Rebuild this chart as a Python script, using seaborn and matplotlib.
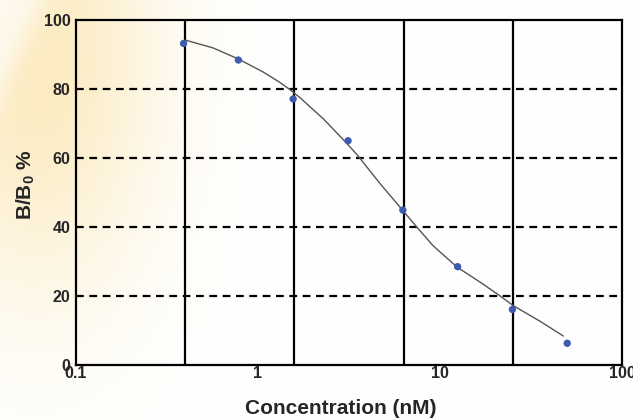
import numpy as np
import pandas as pd
import matplotlib
matplotlib.use("Agg")
import matplotlib.pyplot as plt
import seaborn as sns

# ---- data ----
conc = [0.39, 0.78, 1.56, 3.125, 6.25, 12.5, 25, 50]
bb0 = [93.2, 88.4, 77.1, 65.0, 44.9, 28.5, 16.1, 6.3]

curve_x = [0.397, 0.567, 0.78, 1.07, 1.32, 1.50, 1.70, 2.28, 3.07, 3.56, 4.68, 6.2,
           7.45, 9.19, 12.4, 17.3, 21.4, 25.3, 35.4, 47.6]
curve_y = [94.2, 91.9, 88.7, 84.9, 81.9, 79.8, 77.5, 71.4, 64.3, 60.5, 52.6, 45.0,
           40.0, 34.5, 28.4, 23.4, 20.0, 17.2, 12.7, 8.4]

y_ticks = [0, 20, 40, 60, 80, 100]
x_labels = [0.1, 1, 10, 100]
x_label_text = ["0.1", "1", "10", "100"]
x_grid = [0.1, 0.398, 1.585, 6.31, 25.12, 100]

pts = pd.DataFrame({"conc": conc, "bb0": bb0})
crv = pd.DataFrame({"conc": curve_x, "bb0": curve_y})

sns.set_theme(style="white")
plt.rcParams["font.family"] = ["Liberation Sans", "DejaVu Sans"]
plt.rcParams["mathtext.fontset"] = "custom"
plt.rcParams["mathtext.rm"] = "Liberation Sans:bold"
plt.rcParams["mathtext.bf"] = "Liberation Sans:bold"

W, H = 633, 420
fig = plt.figure(figsize=(W / 100, H / 100), dpi=100)

# background glow
bg = fig.add_axes([0, 0, 1, 1], zorder=-10)
u, v = np.meshgrid(np.arange(W), np.arange(H))
I = np.exp(-((u - 35) / 120.0) ** 2 - ((v - 60) / 230.0) ** 2)
edge = u - (43 - 0.47 * v)
cut = 1 / (1 + np.exp(-edge / 8.0))
I = I * (0.3 + 0.7 * cut)
glow = np.array([252, 235, 192]) / 255.0
img = 1 - I[..., None] * (1 - glow)
bg.imshow(img, extent=[0, W, H, 0], aspect="auto")
bg.axis("off")

ax = fig.add_axes([76 / W, 1 - 365 / H, (622 - 76) / W, (365 - 20) / H])
ax.patch.set_alpha(0)

ax.set_xscale("log")
ax.set_xlim(0.1, 100)
ax.set_ylim(0, 100)

for xg in x_grid[1:-1]:
    ax.axvline(xg, color="black", lw=1.6, zorder=1)
for yt in y_ticks[1:-1]:
    ax.axhline(yt, color="black", lw=1.6, ls=(0, (3.5, 2.5)), zorder=1)

sns.lineplot(data=crv, x="conc", y="bb0", ax=ax, color="#555555", lw=1.0, zorder=3)
sns.scatterplot(data=pts, x="conc", y="bb0", ax=ax, color="#3d5bb0", s=28,
                edgecolor="none", zorder=4)

for s in ax.spines.values():
    s.set_color("black")
    s.set_linewidth(1.6)
    s.set_visible(True)

ax.set_yticks(y_ticks)
ax.set_yticklabels([str(t) for t in y_ticks], fontweight="bold", fontsize=11.5)
ax.tick_params(axis="y", direction="out", length=3, width=1.2, color="black", pad=1)

ax.xaxis.remove_overlapping_locs = False
ax.set_xticks(x_grid)
ax.set_xticklabels([""] * len(x_grid))
ax.set_xticks(x_labels, minor=True)
ax.set_xticklabels(x_label_text, minor=True, fontweight="bold", fontsize=11.5)
ax.tick_params(axis="x", which="major", direction="out", length=3, width=1.2, color="black")
ax.tick_params(axis="x", which="minor", length=0, pad=1)

ax.set_xlabel("Concentration (nM)", fontweight="bold", fontsize=15)
ax.xaxis.set_label_coords((340.5 - 76) / 546, (365 - 399) / 345)
ax.set_ylabel(r"B/B$_0$ %", fontweight="bold", fontsize=15)
ax.yaxis.set_label_coords((37 - 76) / 546, (365 - 185) / 345)

fig.savefig("out.png", dpi=100)
